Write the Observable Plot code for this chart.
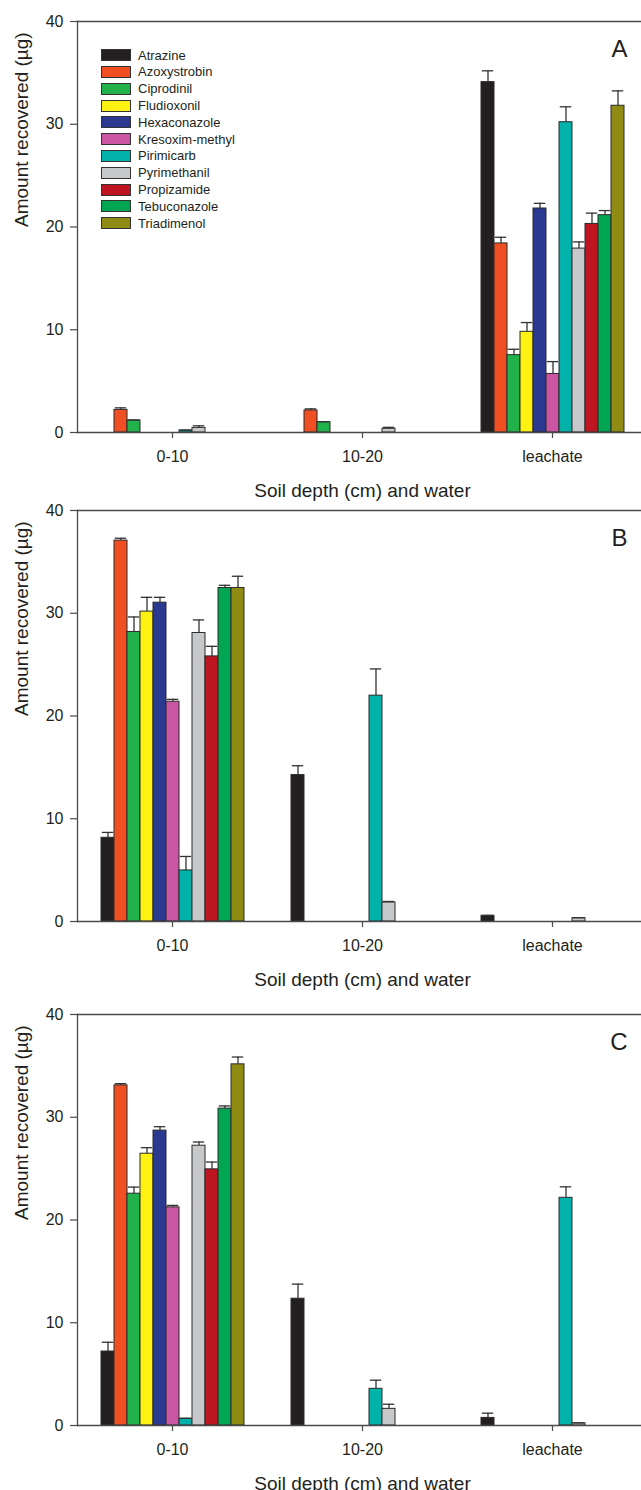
<!DOCTYPE html>
<html>
<head>
<meta charset="utf-8">
<script src="https://cdn.jsdelivr.net/npm/d3@7"></script>
<script src="https://cdn.jsdelivr.net/npm/@observablehq/plot@0.6"></script>
<style>
  html, body { margin: 0; padding: 0; background: #fff; }
  body { font-family: "Liberation Sans", Arial, Helvetica, sans-serif; }
  #wrap { position: relative; width: 641px; height: 1490px; overflow: hidden; }
  .panel { position: absolute; left: 0; }
  .legend { position: absolute; left: 101px; top: 46.8px; }
  .legend .row { display: flex; align-items: center; height: 16.8px; }
  .legend .sw { width: 28px; height: 10px; border: 1px solid #333; margin-right: 7px; }
  .legend .lab { font-size: 13px; color: #231f20; line-height: 1; }
</style>
</head>
<body>
<div id="wrap"></div>
<script>
// ---- categories ----
const depths = ["0-10", "10-20", "leachate"];
const series = ["Atrazine", "Azoxystrobin", "Ciprodinil", "Fludioxonil", "Hexaconazole",
  "Kresoxim-methyl", "Pirimicarb", "Pyrimethanil", "Propizamide", "Tebuconazole", "Triadimenol"];
const colors = ["#231f20", "#f04e23", "#22b24c", "#fff212", "#2b3990",
  "#c955a3", "#00b2a9", "#c7c8ca", "#bd1622", "#00a651", "#8f8b13"];
const yTicks = [0, 10, 20, 30, 40];
const yTitle = "Amount recovered (µg)";
const xTitle = "Soil depth (cm) and water";

// ---- Panel A: means and SE (rows = depths, columns = series) ----
const meanA = [
  [0, 2.2, 1.17, 0, 0, 0, 0.2, 0.45, 0, 0, 0],
  [0, 2.15, 1.0, 0, 0, 0, 0, 0.36, 0, 0, 0],
  [34.1, 18.4, 7.53, 9.8, 21.8, 5.7, 30.2, 17.9, 20.3, 21.15, 31.8]
];
const seA = [
  [0, 0.2, 0.05, 0, 0, 0, 0.03, 0.2, 0, 0, 0],
  [0, 0.15, 0.05, 0, 0, 0, 0, 0.14, 0, 0, 0],
  [1.1, 0.6, 0.57, 0.9, 0.5, 1.2, 1.5, 0.65, 1.05, 0.45, 1.45]
];
// ---- Panel B ----
const meanB = [
  [8.15, 37.07, 28.18, 30.16, 31.03, 21.39, 4.97, 28.08, 25.8, 32.46, 32.46],
  [14.25, 0, 0, 0, 0, 0, 21.98, 1.85, 0, 0, 0],
  [0.55, 0, 0, 0, 0, 0, 0, 0.33, 0, 0, 0]
];
const seB = [
  [0.52, 0.23, 1.46, 1.39, 0.52, 0.23, 1.36, 1.27, 0.98, 0.26, 1.14],
  [0.91, 0, 0, 0, 0, 0, 2.6, 0.1, 0, 0, 0],
  [0.05, 0, 0, 0, 0, 0, 0, 0.03, 0, 0, 0]
];
// ---- Panel C ----
const meanC = [
  [7.2, 33.1, 22.56, 26.45, 28.7, 21.23, 0.65, 27.23, 24.93, 30.84, 35.15],
  [12.34, 0, 0, 0, 0, 0, 3.57, 1.62, 0, 0, 0],
  [0.74, 0, 0, 0, 0, 0, 22.16, 0.22, 0, 0, 0]
];
const seC = [
  [0.9, 0.17, 0.64, 0.59, 0.38, 0.19, 0.05, 0.36, 0.71, 0.26, 0.71],
  [1.42, 0, 0, 0, 0, 0, 0.84, 0.45, 0, 0, 0],
  [0.46, 0, 0, 0, 0, 0, 1.07, 0.03, 0, 0, 0]
];

const font = "'Liberation Sans', Arial, Helvetica, sans-serif";
const ink = "#231f20";
const lineCol = "#4a4a4a";

function panel(letter, means, ses) {
  const rows = [];
  depths.forEach((d, i) => series.forEach((s, j) => {
    rows.push({depth: d, series: s, value: means[i][j], se: ses[i][j]});
  }));
  const present = rows.filter(r => r.value > 0);
  return Plot.plot({
    width: 641,
    height: 520,
    marginTop: 21,
    marginBottom: 88,
    marginLeft: 76,
    marginRight: -7,
    style: {fontFamily: font, color: ink, background: "transparent", overflow: "visible"},
    fx: {domain: depths, padding: 0, label: null, axis: null},
    x: {domain: series, paddingInner: 0, paddingOuter: 1.345, axis: null},
    y: {domain: [0, 40], axis: null},
    color: {domain: series, range: colors},
    marks: [
      Plot.barY(present, {fx: "depth", x: "series", y: "value", fill: "series",
        stroke: "#2a2a2a", strokeWidth: 1}),
      Plot.ruleX(present, {fx: "depth", x: "series", y1: "value", y2: d => d.value + d.se,
        stroke: "#333", strokeWidth: 1.3}),
      Plot.tickY(present, {fx: "depth", x: "series", y: d => d.value + d.se,
        stroke: "#333", strokeWidth: 1.3, insetLeft: 0.8, insetRight: 0.8}),
      Plot.ruleY([0, 40], {stroke: lineCol, strokeWidth: 1.3}),
      Plot.frame({anchor: "left", facetAnchor: "left", stroke: lineCol, strokeWidth: 1.3}),
      Plot.axisY({ticks: yTicks, tickSize: 7, tickPadding: 7, fontSize: 16, label: null,
        stroke: lineCol, strokeWidth: 1.2}),
      Plot.axisFx({anchor: "bottom", tickSize: 6, tickPadding: 12, fontSize: 16, label: null,
        stroke: lineCol, strokeWidth: 1.2}),
      Plot.text([yTitle], {text: d => d, facetAnchor: "left", fx: () => "0-10",
        frameAnchor: "left", rotate: -90, lineAnchor: "top", dx: -63, fontSize: 19}),
      Plot.text([xTitle], {text: d => d, fx: () => "10-20",
        frameAnchor: "bottom", lineAnchor: "middle", dy: 58, fontSize: 19}),
      Plot.text([letter], {text: d => d, fx: () => "leachate",
        frameAnchor: "top-right", textAnchor: "end", lineAnchor: "top", dx: -20, dy: 18, fontSize: 24})
    ]
  });
}

const wrap = document.getElementById("wrap");
const specs = [["A", meanA, seA, 0], ["B", meanB, seB, 489], ["C", meanC, seC, 993]];
for (const [letter, m, s, top] of specs) {
  const svg = panel(letter, m, s);
  svg.classList.add("panel");
  svg.style.top = top + "px";
  wrap.appendChild(svg);
}

// legend (inside panel A)
const legend = document.createElement("div");
legend.className = "legend";
series.forEach((s, i) => {
  const row = document.createElement("div");
  row.className = "row";
  const sw = document.createElement("div");
  sw.className = "sw";
  sw.style.background = colors[i];
  const lab = document.createElement("span");
  lab.className = "lab";
  lab.textContent = s;
  row.appendChild(sw);
  row.appendChild(lab);
  legend.appendChild(row);
});
wrap.appendChild(legend);
</script>
</body>
</html>
